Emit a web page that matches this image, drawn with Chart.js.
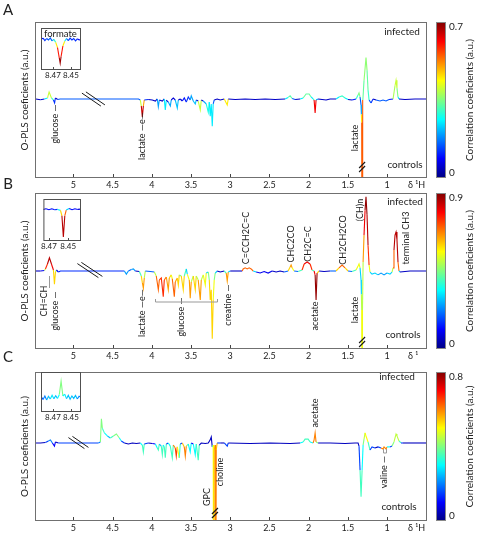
<!DOCTYPE html>
<html><head><meta charset="utf-8">
<script src="https://cdn.jsdelivr.net/npm/chart.js@4.4.1/dist/chart.umd.min.js"></script>
<style>
html,body{margin:0;padding:0;background:#fff;width:478px;height:534px;overflow:hidden;position:relative;}
canvas{position:absolute;}
</style></head><body>
<canvas id="cA" width="478" height="195" style="left:0;top:0"></canvas>
<canvas id="cB" width="478" height="195" style="left:0;top:172px"></canvas>
<canvas id="cC" width="478" height="190" style="left:0;top:345px"></canvas>
<canvas id="iA" width="40" height="53" style="left:41px;top:28px"></canvas>
<canvas id="iB" width="41" height="53" style="left:40px;top:199px"></canvas>
<canvas id="iC" width="40" height="51" style="left:41px;top:372px"></canvas>
<script>
// ---------- DATA ----------
const X_TICKS = [5, 4.5, 4, 3.5, 3, 2.5, 2, 1.5, 1];
const INSET_TICKS = [8.47, 8.45];
const CORR_MAX_A = 0.7, CORR_MAX_B = 0.9, CORR_MAX_C = 0.8;

// Panel A (ppm, O-PLS coefficient, correlation)
const A_PPM = [5.48,5.42,5.37,5.33,5.31,5.28,5.255,5.24,5.23,5.20,5.17,4.17,4.147,4.134,4.121,4.108,4.096,4.045,3.994,3.955,3.930,3.917,3.904,3.866,3.841,3.828,3.815,3.790,3.764,3.752,3.726,3.701,3.675,3.662,3.637,3.611,3.586,3.560,3.535,3.510,3.497,3.471,3.446,3.433,3.408,3.382,3.369,3.344,3.306,3.280,3.267,3.255,3.242,3.229,3.217,3.204,3.166,3.127,3.076,3.038,3.025,2.936,2.809,2.682,2.554,2.427,2.300,2.261,2.236,2.210,2.172,2.108,2.070,2.032,1.994,1.968,1.943,1.930,1.917,1.905,1.879,1.828,1.777,1.726,1.650,1.612,1.573,1.535,1.497,1.446,1.395,1.369,1.357,1.344,1.331,1.327,1.323,1.318,1.313,1.308,1.293,1.268,1.255,1.242,1.229,1.204,1.178,1.140,1.089,1.051,1.013,0.974,0.923,0.898,0.885,0.873,0.860,0.847,0.771,0.643,0.490];
const A_COEF = [0,-0.01,0,0.013,0.09,0.013,-0.013,-0.05,0.013,-0.006,0,0,-0.013,-0.09,-0.23,-0.09,-0.013,-0.006,-0.013,-0.026,0,-0.10,-0.013,-0.026,0,-0.14,-0.013,-0.04,-0.09,-0.013,0.013,-0.013,-0.115,-0.013,0,-0.026,0.013,-0.04,0.026,-0.013,0.04,-0.026,-0.064,-0.013,-0.026,-0.14,-0.013,-0.026,-0.064,-0.17,-0.04,-0.22,-0.064,-0.35,-0.064,-0.013,0,-0.013,0,-0.077,0,-0.006,0,-0.006,0,-0.006,0,0.02,0.04,0.006,-0.006,0,0.013,0.064,0.064,0.026,0,-0.013,-0.18,-0.013,0,-0.006,-0.013,0,0,0.026,0.04,0.013,-0.006,-0.013,0,0.05,0.077,0.026,-0.077,-0.2,-0.3,-3,-0.5,-0.013,0.24,0.53,0.37,0.115,-0.013,-0.05,0,-0.013,-0.026,-0.013,-0.026,-0.006,0,0.17,0.24,0.14,0.026,0,-0.006,0,0];
const A_CORR = [.05,.04,.06,.25,.4,.3,.05,.12,.05,.04,.15,.15,.15,.4,.65,.5,.12,.04,.05,.05,.05,.2,.05,.04,.05,.25,.05,.06,.2,.05,.06,.05,.22,.05,.04,.06,.1,.05,.12,.05,.2,.05,.22,.05,.06,.4,.05,.06,.2,.28,.06,.25,.15,.25,.15,.05,.04,.05,.05,.45,.05,.04,.05,.05,.04,.05,.05,.25,.32,.15,.05,.05,.25,.33,.33,.25,.05,.3,.62,.2,.05,.05,.05,.05,.05,.25,.3,.25,.05,.05,.1,.3,.35,.15,.05,.2,.45,.55,.55,.3,.33,.36,.33,.3,.15,.12,.05,.05,.15,.05,.15,.05,.1,.38,.4,.35,.25,.05,.05,.05,.05];

// Panel B
const B_PPM = [5.48,5.42,5.37,5.357,5.331,5.306,5.280,5.255,5.242,5.229,5.217,5.191,5.166,4.401,4.350,4.325,4.299,4.261,4.236,4.210,4.159,4.134,4.121,4.108,4.096,4.083,4.019,3.968,3.943,3.917,3.904,3.879,3.854,3.841,3.815,3.790,3.777,3.752,3.739,3.713,3.701,3.675,3.662,3.650,3.624,3.599,3.586,3.560,3.548,3.522,3.510,3.497,3.471,3.446,3.433,3.408,3.382,3.369,3.344,3.318,3.306,3.280,3.267,3.255,3.242,3.229,3.217,3.204,3.191,3.166,3.127,3.076,3.051,3.038,3.025,3.000,2.924,2.847,2.835,2.809,2.784,2.758,2.733,2.707,2.669,2.618,2.567,2.516,2.465,2.414,2.363,2.312,2.261,2.236,2.223,2.210,2.185,2.134,2.083,2.057,2.019,1.981,1.956,1.930,1.917,1.905,1.892,1.866,1.803,1.726,1.650,1.612,1.573,1.535,1.497,1.446,1.395,1.369,1.357,1.344,1.331,1.327,1.323,1.318,1.313,1.305,1.293,1.280,1.268,1.255,1.242,1.229,1.217,1.191,1.153,1.115,1.076,1.038,1.000,0.962,0.936,0.923,0.911,0.898,0.885,0.873,0.860,0.847,0.834,0.707,0.490];
const B_COEF = [0,0,0.006,0.026,0.09,0.17,0.09,0.013,-0.17,-0.013,0.013,-0.013,0,0,0,-0.04,0,0.02,0.026,0,-0.006,-0.064,-0.15,-0.22,-0.09,0,-0.006,-0.013,-0.064,-0.24,-0.115,-0.09,-0.33,-0.115,-0.077,-0.24,-0.09,-0.05,-0.10,-0.33,-0.14,-0.09,-0.18,-0.05,-0.064,-0.24,-0.064,0.026,-0.04,-0.115,-0.35,-0.14,-0.064,-0.24,-0.064,-0.115,-0.37,-0.115,-0.05,-0.18,-0.026,-0.013,-0.115,-0.37,-0.24,-0.87,-0.37,-0.115,-0.026,0,-0.013,0,-0.026,-0.13,-0.013,0,0,0,0.026,0.04,0.026,0.04,0.026,0,-0.013,-0.026,-0.006,-0.026,0,-0.013,0,-0.013,0,0.05,0.077,0.04,0,-0.006,0.013,0.09,0.115,0.09,0.013,0,-0.05,-0.37,-0.026,0,-0.006,0,0,0.04,0.077,0.04,0,-0.006,0.013,0.064,0.09,0.04,-0.115,-0.3,-0.5,-3,-0.5,0.115,0.46,0.78,0.95,0.72,0.33,0.077,-0.013,-0.04,-0.026,-0.05,-0.026,-0.05,-0.026,-0.04,-0.013,0.04,0.27,0.46,0.5,0.4,0.115,0,-0.013,0,0];
const B_CORR = [.06,.06,.1,.5,.75,.85,.8,.6,.6,.5,.1,.06,.15,.15,.1,.25,.06,.2,.25,.06,.06,.4,.6,.65,.5,.2,.06,.2,.5,.7,.7,.75,.75,.7,.6,.65,.6,.4,.55,.7,.65,.5,.6,.4,.45,.6,.4,.3,.3,.55,.65,.5,.4,.6,.4,.5,.65,.5,.35,.55,.3,.2,.45,.6,.55,.6,.55,.45,.3,.06,.06,.06,.4,.65,.3,.06,.06,.06,.7,.7,.7,.7,.7,.3,.06,.1,.06,.1,.06,.06,.06,.06,.2,.6,.65,.55,.2,.06,.4,.75,.8,.75,.4,.2,.8,.88,.6,.06,.06,.06,.2,.6,.7,.6,.2,.06,.4,.55,.55,.3,.06,.3,.5,.55,.5,.5,.65,.8,.88,.85,.75,.55,.3,.3,.3,.25,.2,.25,.2,.3,.3,.5,.7,.85,.85,.85,.7,.3,.06,.06,.06];

// Panel C
const C_PPM = [5.48,5.42,5.357,5.319,5.293,5.268,5.242,5.229,5.191,5.140,4.682,4.656,4.643,4.631,4.605,4.567,4.529,4.490,4.452,4.414,4.389,4.350,4.299,4.248,4.197,4.147,4.121,4.108,4.096,4.045,3.994,3.955,3.930,3.917,3.904,3.879,3.866,3.854,3.841,3.828,3.815,3.790,3.764,3.739,3.726,3.701,3.688,3.675,3.650,3.637,3.611,3.586,3.573,3.560,3.535,3.510,3.497,3.471,3.446,3.433,3.408,3.395,3.369,3.318,3.280,3.255,3.242,3.229,3.217,3.210,3.204,3.191,3.185,3.178,3.166,3.127,3.076,3.038,3.025,2.745,2.490,2.236,2.108,2.070,2.045,2.006,1.981,1.943,1.930,1.917,1.905,1.879,1.726,1.535,1.408,1.369,1.357,1.344,1.331,1.318,1.305,1.293,1.280,1.268,1.242,1.217,1.191,1.153,1.115,1.076,1.051,1.038,1.013,1.000,0.962,0.936,0.911,0.885,0.873,0.847,0.822,0.796,0.490];
const C_COEF = [0,0,0.006,0.026,0.04,0,-0.04,0.013,0,0,0,0.013,0.31,0.19,0.13,0.09,0.064,0.09,0.115,0.064,0.026,0,-0.013,0,-0.006,0,-0.026,-0.115,-0.013,0,-0.006,-0.013,-0.064,-0.09,-0.013,-0.04,-0.15,-0.026,-0.05,-0.19,-0.013,0,-0.04,-0.19,-0.026,-0.064,-0.17,-0.05,-0.19,-0.013,0,-0.05,-0.17,-0.04,-0.013,-0.115,0,-0.013,-0.15,-0.013,-0.22,-0.026,0,-0.006,0,0.04,0.077,-0.05,-0.026,-3,-0.09,-0.026,-3,-0.09,0,0,0,-0.04,0,-0.006,0,-0.006,0,0.013,0.05,0.05,0.013,0,0.04,0.13,0.013,0,0,-0.006,0,0,-0.04,-0.35,-0.69,-0.35,-0.026,0.05,0.13,0.09,0.013,-0.09,-0.05,-0.064,-0.05,-0.064,-0.077,-0.05,-0.077,-0.05,-0.05,-0.04,0.013,0.115,0.09,0.026,0,0,0];
const C_CORR = [.05,.04,.05,.15,.2,.05,.1,.05,.05,.15,.15,.2,.4,.35,.3,.25,.2,.35,.4,.3,.15,.05,.05,.05,.05,.05,.3,.35,.15,.05,.05,.1,.3,.35,.15,.25,.35,.15,.3,.35,.15,.05,.3,.35,.15,.6,.65,.5,.35,.15,.05,.55,.6,.4,.15,.3,.1,.1,.3,.05,.35,.05,.05,.05,.05,.05,.05,.05,.3,.5,.55,.4,.6,.55,.15,.05,.05,.15,.05,.05,.05,.05,.05,.3,.35,.35,.3,.15,.6,.6,.4,.05,.05,.05,.05,.05,.05,.15,.35,.3,.15,.4,.45,.5,.35,.15,.15,.05,.05,.15,.6,.3,.6,.3,.05,.15,.4,.45,.45,.35,.15,.05,.05];

// Insets (formate region)
const IA_PPM = [8.484,8.481,8.479,8.477,8.475,8.473,8.471,8.469,8.467,8.465,8.463,8.462,8.461,8.459,8.457,8.455,8.453,8.451,8.449,8.447,8.445,8.443,8.441,8.438];
const IA_COEF = [0.02,0.06,-0.02,0.05,0,0.07,-0.03,0.02,-0.08,-0.25,-0.6,-0.77,-0.55,-0.2,-0.04,0.05,-0.02,0.06,0,0.05,-0.03,0.04,0,0.03];
const IA_CORR = [.08,.08,.12,.08,.15,.12,.15,.2,.3,.45,.6,.68,.6,.45,.25,.15,.12,.08,.12,.08,.12,.08,.08,.08];
const IB_PPM = [8.476,8.473,8.470,8.467,8.464,8.461,8.458,8.4565,8.455,8.4535,8.452,8.449,8.446,8.443,8.440,8.437];
const IB_COEF = [0,0.02,-0.01,0.02,-0.01,0,-0.03,-0.2,-0.87,-0.2,-0.02,0.03,-0.01,0.02,0,0.01];
const IB_CORR = [.08,.08,.12,.08,.12,.15,.35,.6,.85,.7,.3,.12,.08,.12,.08,.08];
const IC_PPM = [8.483,8.481,8.479,8.477,8.475,8.473,8.471,8.469,8.467,8.465,8.463,8.461,8.459,8.457,8.455,8.453,8.451,8.449,8.447,8.445,8.443,8.441,8.439];
const IC_COEF = [0.02,-0.08,0.05,-0.1,0.04,-0.06,0.08,-0.05,0.06,-0.04,0.1,0.61,0.05,0.12,-0.05,0.08,-0.07,0.05,-0.04,0.07,-0.06,0.04,0];
const IC_CORR = [.1,.15,.2,.1,.25,.15,.28,.15,.25,.2,.3,.4,.3,.28,.2,.25,.15,.25,.15,.25,.15,.2,.1];

// ---------- DRAWING ----------
const FONT = 'Lato, "Open Sans", Arial, sans-serif';
const INK = '#222';
function jet(t){
  t = Math.max(0, Math.min(1, t));
  const f = v => Math.round(255 * Math.max(0, Math.min(1, v)));
  return `rgb(${f(1.5-Math.abs(4*t-3))},${f(1.5-Math.abs(4*t-2))},${f(1.5-Math.abs(4*t-1))})`;
}
function vtext(ctx, txt, x, y, size){
  ctx.save(); ctx.translate(x, y); ctx.rotate(-Math.PI/2);
  ctx.font = `${size}px ${FONT}`; ctx.fillStyle = INK;
  ctx.textAlign = 'center'; ctx.textBaseline = 'middle';
  ctx.fillText(txt, 0, 0); ctx.restore();
}
function htext(ctx, txt, x, y, size, align){
  ctx.font = `${size}px ${FONT}`; ctx.fillStyle = INK;
  ctx.textAlign = align || 'center'; ctx.textBaseline = 'middle';
  ctx.fillText(txt, x, y);
}
function dataset(ppm, coef, corr, cmax){
  return {
    data: ppm.map((x, i) => ({x, y: coef[i]})),
    borderWidth: 1.1, pointRadius: 0, tension: 0, borderColor: '#0000ff',
    segment: { borderColor: c => jet(Math.max(corr[c.p0DataIndex], corr[c.p1DataIndex]) / cmax) }
  };
}

function makePanel(s){
  const top = s.top;
  const deco = {
    id: 'deco',
    afterDatasetsDraw(chart){
      const ctx = chart.ctx, a = chart.chartArea, xs = chart.scales.x;
      const Y = v => v - top;
      ctx.save();
      ctx.strokeStyle = '#707070'; ctx.lineWidth = 1;
      ctx.strokeRect(Math.round(a.left)+0.5, Math.round(a.top)+0.5, Math.round(a.right-a.left)-1, Math.round(a.bottom-a.top)-1);
      ctx.strokeStyle = '#444';
      ctx.beginPath();
      X_TICKS.forEach(v => { const x = Math.round(xs.getPixelForValue(v))+0.5; ctx.moveTo(x, a.bottom-1); ctx.lineTo(x, a.bottom-4); });
      ctx.stroke();
      htext(ctx, s.unit, 408, a.bottom + 7, 9, 'left');
      htext(ctx, s.letter, 8, s.letterY, 15);
      vtext(ctx, 'O-PLS coeficients (a.u.)', 25, (a.top+a.bottom)/2, 10);
      const cb0 = 436, cb1 = 446;
      const g = ctx.createLinearGradient(0, a.bottom, 0, a.top);
      for (let i = 0; i <= 32; i++) g.addColorStop(i/32, jet(i/32));
      ctx.fillStyle = g; ctx.fillRect(cb0, a.top, cb1-cb0, a.bottom-a.top);
      ctx.strokeStyle = '#888'; ctx.strokeRect(cb0+0.5, Math.round(a.top)+0.5, cb1-cb0-1, Math.round(a.bottom-a.top)-1);
      htext(ctx, s.cmaxLabel, 449, a.top + 5, 10, 'left');
      htext(ctx, '0', 449, a.bottom - 5, 10, 'left');
      vtext(ctx, 'Correlation coeficients (a.u.)', 470, (a.top+a.bottom)/2, 10);
      htext(ctx, 'infected', s.infected[0], Y(s.infected[1]), 10);
      htext(ctx, 'controls', s.controls[0], Y(s.controls[1]), 10);
      s.vlabels.forEach(l => vtext(ctx, l[0], xs.getPixelForValue(l[1]), Y(l[2]), l[3] || 9));
      ctx.strokeStyle = '#999'; ctx.lineWidth = 1;
      (s.lines || []).forEach(L => {
        ctx.beginPath();
        L.forEach((p, i) => { const x = Math.round(xs.getPixelForValue(p[0]))+0.5, y = Y(p[1]); i ? ctx.lineTo(x, y) : ctx.moveTo(x, y); });
        ctx.stroke();
      });
      ctx.strokeStyle = '#1a1a1a'; ctx.lineWidth = 1;
      const bx = xs.getPixelForValue(s.brk[0]), by = Y(s.brk[1]);
      const dx = s.brk[2], dy = s.brk[3];
      [-2, 2].forEach(o => {
        ctx.beginPath(); ctx.moveTo(bx - dx + o, by - dy - o*0.3); ctx.lineTo(bx + dx + o, by + dy - o*0.3); ctx.stroke();
      });
      const cx = xs.getPixelForValue(s.clip[0]), cy = Y(s.clip[1]);
      ctx.lineWidth = 1.2;
      [-2, 2].forEach(o => {
        ctx.beginPath(); ctx.moveTo(cx - 3, cy + 3 + o); ctx.lineTo(cx + 3, cy - 3 + o); ctx.stroke();
      });
      ctx.restore();
    }
  };
  return new Chart(document.getElementById(s.id), {
    type: 'line',
    data: { datasets: [dataset(s.ppm, s.coef, s.corr, s.cmax)] },
    options: {
      responsive: false, animation: false, devicePixelRatio: 1,
      layout: { autoPadding: false, padding: { left: 35, right: 51, top: s.padTop, bottom: s.padBottom } },
      plugins: { legend: { display: false }, tooltip: { enabled: false } },
      scales: {
        x: {
          type: 'linear', reverse: true, min: 0.49, max: 5.49,
          afterBuildTicks: sc => { sc.ticks = X_TICKS.map(v => ({ value: v })); },
          afterFit: sc => { sc.height = 14; },
          ticks: { font: { size: 9, family: FONT }, color: INK, padding: 2, maxRotation: 0, autoSkip: false, callback: v => String(v) },
          grid: { display: false, drawTicks: false }, border: { display: false }
        },
        y: { display: false, min: s.ymin, max: s.ymax }
      }
    },
    plugins: [deco]
  });
}

function makeInset(s){
  const deco = {
    id: 'ideco',
    afterDatasetsDraw(chart){
      const ctx = chart.ctx, a = chart.chartArea, xs = chart.scales.x;
      ctx.save();
      ctx.strokeStyle = '#505050'; ctx.lineWidth = 1;
      ctx.strokeRect(a.left+0.5, a.top+0.5, a.right-a.left-1, a.bottom-a.top-1);
      ctx.beginPath();
      INSET_TICKS.forEach(v => { const x = Math.round(xs.getPixelForValue(v))+0.5; ctx.moveTo(x, a.bottom-1); ctx.lineTo(x, a.bottom-3); });
      ctx.stroke();
      if (s.title) htext(ctx, s.title, 3, 6, 9.5, 'left');
      ctx.restore();
    }
  };
  return new Chart(document.getElementById(s.id), {
    type: 'line',
    data: { datasets: [dataset(s.ppm, s.coef, s.corr, s.cmax)] },
    options: {
      responsive: false, animation: false, devicePixelRatio: 1,
      layout: { autoPadding: false, padding: 0 },
      plugins: { legend: { display: false }, tooltip: { enabled: false } },
      scales: {
        x: {
          type: 'linear', reverse: true, min: s.xmin, max: s.xmax,
          afterBuildTicks: sc => { sc.ticks = INSET_TICKS.map(v => ({ value: v })); },
          afterFit: sc => { sc.height = 11; },
          ticks: { font: { size: 8, family: FONT }, color: INK, padding: 1, maxRotation: 0, autoSkip: false, callback: v => v.toFixed(2) },
          grid: { display: false, drawTicks: false }, border: { display: false }
        },
        y: { display: false, min: s.ymin, max: s.ymax }
      }
    },
    plugins: [deco]
  });
}

makePanel({
  id: 'cA', top: 0, padTop: 22, padBottom: 3, ymin: -1.013, ymax: 0.987,
  ppm: A_PPM, coef: A_COEF, corr: A_CORR, cmax: CORR_MAX_A, cmaxLabel: '0.7',
  letter: 'A', letterY: 10, unit: 'δ ¹H',
  infected: [402, 32], controls: [405, 165],
  vlabels: [['glucose —', 5.235, 124], ['lactate —e—', 4.121, 136], ['lactate', 1.41, 138]],
  brk: [4.745, 99, 9.5, 6.5], clip: [1.318, 167]
});
makePanel({
  id: 'cB', top: 172, padTop: 21, padBottom: 4, ymin: -1, ymax: 1,
  ppm: B_PPM, coef: B_COEF, corr: B_CORR, cmax: CORR_MAX_B, cmaxLabel: '0.9',
  letter: 'B', letterY: 12, unit: 'δ ¹',
  infected: [405, 202], controls: [403, 335],
  vlabels: [['CH=CH', 5.38, 301], ['glucose —', 5.229, 311], ['lactate —e—', 4.121, 313],
            ['glucose —', 3.624, 317], ['creatine —', 3.025, 305], ['C=CCH2C=C', 2.796, 238],
            ['CHC2CO', 2.223, 244], ['CH2C=C', 2.006, 244], ['CH2CH2CO', 1.56, 240],
            ['(CH)n', 1.345, 210], ['terminal CH3', 0.76, 238], ['acetate', 1.917, 316], ['lactate', 1.41, 310]],
  lines: [[[5.306, 276], [5.306, 288]],
          [[3.955, 299], [3.955, 302], [3.166, 302], [3.166, 299]]],
  brk: [4.79, 270, 10.5, 7], clip: [1.318, 342]
});
makePanel({
  id: 'cC', top: 345, padTop: 27, padBottom: 0, ymin: -1, ymax: 0.91,
  ppm: C_PPM, coef: C_COEF, corr: C_CORR, cmax: CORR_MAX_C, cmaxLabel: '0.8',
  letter: 'C', letterY: 12, unit: 'δ ¹H',
  infected: [397, 377], controls: [399, 507],
  vlabels: [['acetate', 1.917, 413], ['GPC', 3.293, 497], ['choline', 3.127, 472], ['valine —', 1.032, 472]],
  lines: [[[1.051, 449], [1.051, 453], [1.013, 453], [1.013, 449]]],
  brk: [4.936, 442.5, 8, 5.5], clip: [3.195, 513]
});

makeInset({ id: 'iA', ppm: IA_PPM, coef: IA_COEF, corr: IA_CORR, cmax: CORR_MAX_A,
  xmin: 8.4389, xmax: 8.4833, ymin: -1, ymax: 0.4, title: 'formate' });
makeInset({ id: 'iB', ppm: IB_PPM, coef: IB_COEF, corr: IB_CORR, cmax: CORR_MAX_B,
  xmin: 8.4367, xmax: 8.4757, ymin: -1, ymax: 0.33 });
makeInset({ id: 'iC', ppm: IC_PPM, coef: IC_COEF, corr: IC_CORR, cmax: CORR_MAX_C,
  xmin: 8.4389, xmax: 8.4833, ymin: -0.55, ymax: 0.95 });
</script>
</body></html>
